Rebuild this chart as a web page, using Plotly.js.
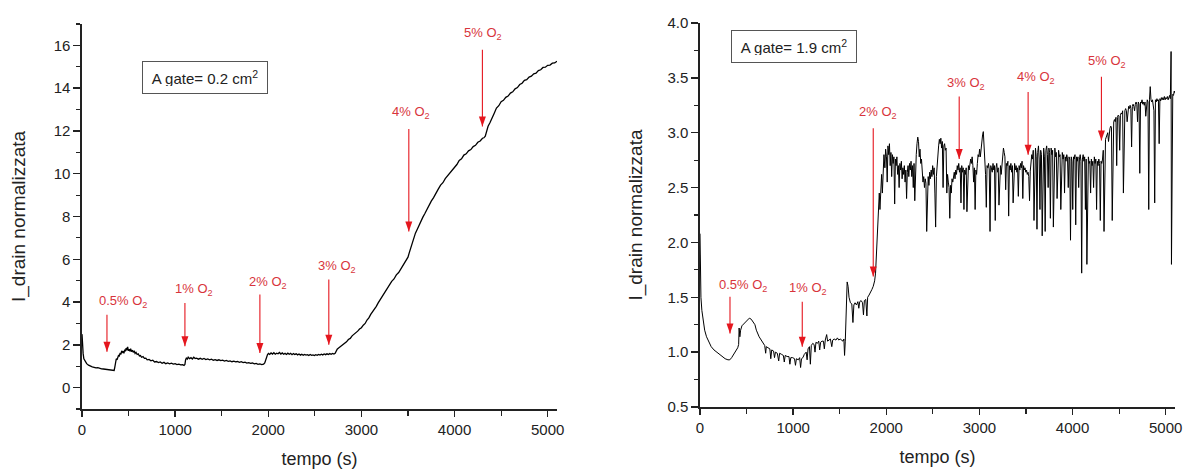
<!DOCTYPE html>
<html>
<head>
<meta charset="utf-8">
<script src="https://cdn.plot.ly/plotly-3.0.1.min.js"></script>
<style>
html,body{margin:0;padding:0;background:#fff;}
#chart{width:1184px;height:471px;}
</style>
</head>
<body>
<div id="chart"></div>
<script>
// ---- Left panel (A gate = 0.2 cm2) ----
const timeSmall = [0,5,12,20,35,50,70,90,110,130,150,170,190,210,230,250,270,290,310,330,345,352,360,368,376,384,392,400,410,418,426,434,442,450,458,466,474,482,490,498,506,514,522,530,540,550,560,570,580,592,604,616,628,640,655,670,685,700,720,740,760,780,800,820,840,860,880,900,920,940,960,980,1000,1020,1040,1060,1080,1095,1105,1112,1120,1130,1140,1155,1170,1185,1200,1215,1230,1250,1270,1290,1310,1330,1350,1370,1390,1410,1430,1450,1470,1490,1510,1530,1550,1570,1590,1610,1630,1650,1670,1690,1710,1730,1750,1770,1790,1810,1830,1850,1870,1890,1910,1930,1950,1962,1972,1982,1992,2002,2015,2030,2045,2060,2075,2090,2105,2120,2135,2150,2165,2180,2195,2210,2225,2240,2255,2270,2285,2300,2315,2330,2345,2360,2375,2390,2405,2420,2435,2450,2465,2480,2495,2510,2525,2540,2555,2570,2585,2600,2615,2630,2645,2660,2675,2690,2705,2718,2728,2740,2755,2770,2785,2800,2820,2840,2860,2880,2900,2920,2940,2960,2980,3000,3020,3040,3060,3080,3100,3120,3140,3160,3180,3200,3225,3250,3275,3300,3325,3350,3375,3400,3425,3450,3475,3500,3515,3530,3545,3560,3580,3600,3620,3640,3660,3680,3700,3725,3750,3775,3800,3825,3850,3875,3900,3925,3950,3975,4000,4025,4050,4075,4100,4125,4150,4175,4200,4225,4250,4275,4300,4315,4330,4345,4360,4380,4400,4425,4450,4475,4500,4525,4550,4575,4600,4625,4650,4675,4700,4725,4750,4775,4800,4825,4850,4875,4900,4925,4950,4975,5000,5025,5050,5075,5100];
const currentSmall = [2.5,2.0,1.6,1.35,1.2,1.12,1.05,1.0,0.97,0.95,0.92,0.93,0.89,0.88,0.87,0.86,0.85,0.84,0.83,0.81,0.8,0.95,1.2,1.35,1.3,1.45,1.5,1.48,1.62,1.55,1.72,1.65,1.7,1.6,1.78,1.7,1.85,1.75,1.9,1.72,1.8,1.7,1.82,1.68,1.75,1.65,1.72,1.6,1.65,1.55,1.58,1.48,1.5,1.42,1.45,1.37,1.38,1.3,1.32,1.25,1.28,1.2,1.22,1.17,1.2,1.14,1.18,1.12,1.15,1.11,1.14,1.1,1.12,1.08,1.1,1.06,1.07,1.04,1.08,1.3,1.38,1.33,1.42,1.35,1.4,1.34,1.42,1.36,1.38,1.33,1.37,1.32,1.36,1.31,1.34,1.3,1.33,1.28,1.31,1.27,1.3,1.26,1.28,1.24,1.27,1.23,1.25,1.21,1.24,1.2,1.22,1.18,1.21,1.17,1.19,1.15,1.17,1.13,1.15,1.11,1.13,1.09,1.11,1.08,1.1,1.15,1.3,1.45,1.55,1.6,1.55,1.62,1.57,1.63,1.56,1.61,1.58,1.64,1.57,1.62,1.56,1.6,1.55,1.61,1.56,1.6,1.54,1.59,1.55,1.58,1.53,1.57,1.52,1.56,1.51,1.55,1.52,1.54,1.5,1.55,1.51,1.53,1.5,1.54,1.51,1.55,1.52,1.56,1.53,1.57,1.54,1.58,1.55,1.59,1.56,1.6,1.57,1.6,1.72,1.8,1.85,1.9,1.95,2.0,2.1,2.14,2.25,2.3,2.42,2.48,2.57,2.64,2.74,2.8,2.92,3.0,3.16,3.26,3.42,3.53,3.69,3.8,3.96,4.1,4.3,4.43,4.64,4.78,4.97,5.08,5.27,5.38,5.57,5.7,5.92,6.1,6.32,6.52,6.82,6.98,7.22,7.4,7.62,7.78,7.97,8.13,8.32,8.48,8.72,8.88,9.12,9.28,9.47,9.58,9.77,9.9,10.07,10.18,10.32,10.43,10.62,10.7,10.87,10.93,11.07,11.13,11.27,11.33,11.47,11.53,11.66,11.68,11.76,12.0,12.22,12.38,12.62,12.82,13.07,13.18,13.37,13.43,13.57,13.63,13.77,13.83,13.97,14.03,14.17,14.23,14.37,14.4,14.52,14.56,14.67,14.7,14.82,14.86,14.97,14.98,15.07,15.08,15.17,15.18,15.26];

// ---- Right panel (A gate = 1.9 cm2) ----
const timeLarge = [0,4,10,20,35,50,70,95,120,150,180,210,240,270,300,320,340,360,385,405,415,420,428,436,450,470,490,510,530,550,570,590,605,620,635,650,665,680,695,705,712,730,750,760,770,790,800,810,830,845,855,875,895,905,915,935,955,965,975,995,1015,1025,1035,1055,1070,1080,1090,1105,1120,1140,1150,1160,1175,1185,1195,1210,1225,1235,1245,1260,1275,1285,1295,1310,1325,1335,1345,1360,1370,1385,1400,1415,1425,1440,1460,1475,1490,1505,1520,1535,1545,1552,1560,1565,1572,1580,1590,1600,1615,1630,1642,1652,1665,1680,1695,1705,1715,1730,1745,1755,1765,1780,1792,1800,1815,1830,1845,1860,1875,1885,1895,1905,1915,1925,1932,1940,1950,1958,1966,1975,1985,1993,2002,2010,2018,2026,2034,2042,2050,2058,2066,2074,2082,2090,2098,2106,2114,2122,2130,2138,2146,2154,2162,2170,2178,2186,2194,2202,2210,2218,2226,2234,2242,2250,2258,2266,2274,2282,2290,2298,2306,2314,2322,2330,2338,2346,2354,2362,2370,2378,2386,2394,2402,2410,2418,2426,2434,2442,2450,2458,2466,2474,2482,2490,2498,2506,2514,2522,2530,2538,2546,2554,2562,2570,2578,2586,2594,2602,2610,2618,2626,2634,2642,2650,2658,2666,2674,2682,2690,2698,2706,2714,2722,2730,2738,2746,2754,2762,2770,2778,2786,2794,2802,2810,2818,2826,2834,2842,2850,2858,2866,2874,2882,2890,2898,2906,2914,2922,2930,2938,2946,2954,2962,2970,2978,2986,2994,3002,3010,3018,3026,3034,3042,3050,3058,3066,3074,3082,3090,3098,3106,3114,3122,3130,3138,3146,3154,3162,3170,3178,3186,3194,3202,3210,3218,3226,3234,3242,3250,3258,3266,3274,3282,3290,3298,3306,3314,3322,3330,3338,3346,3354,3362,3370,3378,3386,3394,3402,3410,3418,3426,3434,3442,3450,3458,3466,3474,3482,3490,3498,3506,3514,3522,3530,3538,3546,3554,3562,3570,3578,3586,3594,3602,3610,3618,3626,3634,3642,3650,3658,3666,3674,3682,3690,3698,3706,3714,3722,3730,3738,3746,3754,3762,3770,3778,3786,3794,3802,3810,3818,3826,3834,3842,3850,3858,3866,3874,3882,3890,3898,3906,3914,3922,3930,3938,3946,3954,3962,3970,3978,3986,3994,4002,4010,4018,4026,4034,4042,4050,4058,4066,4074,4082,4090,4098,4106,4114,4122,4130,4138,4146,4154,4162,4170,4178,4186,4194,4202,4210,4218,4226,4234,4242,4250,4258,4266,4274,4282,4290,4298,4306,4314,4322,4330,4338,4346,4354,4362,4370,4378,4386,4394,4402,4410,4418,4426,4434,4442,4450,4458,4466,4474,4482,4490,4498,4506,4514,4522,4530,4538,4546,4554,4562,4570,4578,4586,4594,4602,4610,4618,4626,4634,4642,4650,4658,4666,4674,4682,4690,4698,4706,4714,4722,4730,4738,4746,4754,4762,4770,4778,4786,4794,4802,4810,4818,4826,4834,4842,4850,4858,4866,4874,4882,4890,4898,4906,4914,4922,4930,4938,4946,4954,4962,4970,4978,4986,4994,5002,5010,5018,5026,5034,5042,5050,5058,5062,5068,5076,5084,5092,5100];
const currentLarge = [2.08,1.75,1.5,1.38,1.27,1.2,1.14,1.09,1.05,1.02,1.0,0.98,0.96,0.94,0.93,0.93,0.95,0.98,1.01,1.04,1.07,1.22,1.14,1.2,1.24,1.26,1.28,1.3,1.31,1.3,1.28,1.25,1.2,1.16,1.14,1.12,1.1,1.08,1.06,0.99,1.05,1.04,1.03,0.94,1.02,1.01,0.95,1.0,0.99,0.92,0.99,0.98,0.97,0.91,0.97,0.96,0.96,0.89,0.95,0.95,0.94,0.88,0.94,0.93,0.95,0.86,0.94,0.95,0.98,1.0,0.93,1.03,1.05,0.89,1.06,1.08,1.07,1.0,1.09,1.08,1.1,1.02,1.09,1.1,1.1,1.03,1.11,1.16,1.1,1.11,1.12,1.05,1.11,1.12,1.11,1.13,1.11,1.12,1.11,1.1,1.12,0.97,1.1,1.3,1.5,1.64,1.6,1.5,1.45,1.44,1.27,1.43,1.45,1.43,1.46,1.4,1.46,1.47,1.45,1.34,1.47,1.48,1.33,1.5,1.52,1.54,1.57,1.6,1.65,1.72,1.9,2.1,2.3,2.45,2.3,2.55,2.62,2.45,2.72,2.8,2.68,2.85,2.78,2.55,2.88,2.8,2.9,2.7,2.82,2.6,2.8,2.72,2.78,2.35,2.76,2.7,2.78,2.62,2.7,2.5,2.72,2.66,2.74,2.58,2.68,2.62,2.7,2.55,2.66,2.4,2.64,2.7,2.6,2.72,2.66,2.74,2.6,2.7,2.5,2.72,2.38,2.74,2.8,2.9,2.96,2.92,2.78,2.85,2.72,2.76,2.62,2.55,2.6,2.5,2.58,2.54,2.1,2.56,2.6,2.52,2.64,2.58,2.66,2.6,2.7,2.62,2.68,2.45,2.14,2.6,2.72,2.8,2.88,2.94,2.9,2.95,2.86,2.92,2.5,2.88,2.9,2.84,2.86,2.45,2.62,2.55,2.5,2.22,2.52,2.45,2.58,2.55,2.6,2.64,2.58,2.66,2.62,2.7,2.66,2.72,2.64,2.68,2.36,2.7,2.64,2.68,2.3,2.66,2.62,2.68,2.28,2.64,2.7,2.66,2.72,2.76,2.72,2.78,2.7,2.55,2.68,2.3,2.66,2.62,2.72,2.8,2.78,2.85,2.78,2.88,2.92,2.98,3.01,2.9,2.7,2.62,2.32,2.7,2.68,2.72,2.66,2.1,2.7,2.68,2.64,2.72,2.66,2.7,2.2,2.68,2.72,2.64,2.68,2.34,2.66,2.7,2.62,2.72,2.8,2.86,2.82,2.78,2.48,2.72,2.7,2.74,2.24,2.7,2.66,2.72,2.64,2.7,2.36,2.68,2.72,2.66,2.7,2.64,2.68,2.42,2.7,2.66,2.72,2.68,2.74,2.4,2.7,2.66,2.68,2.64,2.66,2.62,2.64,2.6,2.38,2.65,2.72,2.8,2.76,2.84,2.2,2.8,2.86,2.78,2.12,2.82,2.88,2.76,2.3,2.84,2.8,2.06,2.82,2.86,2.78,2.1,2.84,2.88,2.8,2.5,2.86,2.82,2.22,2.86,2.8,2.84,2.14,2.8,2.86,2.78,2.82,2.4,2.8,2.84,2.78,2.8,2.3,2.78,2.82,2.76,2.8,2.45,2.78,2.74,2.8,2.76,2.5,2.78,2.76,2.02,2.78,2.74,2.3,2.78,2.76,2.8,2.16,2.78,2.74,2.78,2.5,2.76,2.8,2.74,1.72,2.76,2.8,2.74,2.78,2.3,2.76,1.8,2.74,2.78,2.72,2.74,2.45,2.76,2.7,2.74,2.5,2.78,2.72,2.76,2.3,2.74,2.7,2.76,2.72,2.2,2.74,2.72,2.76,2.84,2.1,2.9,2.94,2.96,2.98,3.0,2.92,3.02,3.04,3.06,3.05,2.2,3.08,3.1,3.12,3.1,3.14,2.7,3.14,3.16,3.15,2.84,3.16,3.18,3.17,3.2,2.45,3.18,3.2,3.22,3.2,3.1,3.22,3.24,3.22,3.25,3.22,2.87,3.24,3.26,3.24,3.2,3.26,3.28,3.26,3.1,3.28,3.26,2.63,3.28,3.27,3.3,3.26,3.28,3.25,3.28,3.15,3.27,3.3,3.28,2.3,3.3,3.42,3.3,3.28,3.3,3.26,3.2,2.36,3.3,3.28,3.31,3.29,3.3,2.9,3.31,3.29,3.32,3.3,3.32,3.3,3.33,3.3,3.32,3.31,3.33,3.3,3.32,3.34,3.31,3.74,1.8,3.3,3.35,3.34,3.38,3.36];

// ---- O2 step markers ----
const o2Labels = ['0.5%', '1%', '2%', '3%', '4%', '5%'];
const leftArrowTime = [268, 1105, 1910, 2650, 3509, 4299];
const leftArrowTip = [1.68, 1.93, 1.62, 2.0, 7.3, 12.21];
const leftArrowTail = [3.41, 3.96, 4.35, 5.05, 12.09, 15.8];
const leftLabelY = [4.03, 4.58, 4.9, 5.67, 12.85, 16.57];
const leftLabelShift = [-10, -12, -13, -13, -19, -20];

const rightArrowTime = [322, 1098, 1860, 2783, 3523, 4310];
const rightArrowTip = [1.17, 1.05, 1.69, 2.76, 2.8, 2.93];
const rightArrowTail = [1.505, 1.46, 3.04, 3.33, 3.37, 3.51];
const rightLabelY = [1.61, 1.58, 3.18, 3.45, 3.5, 3.65];
const rightLabelShift = [-13, -15, -16, -14, -13, -15];

const boxLabels = ['A gate= 0.2 cm<sup>2</sup>', 'A gate= 1.9 cm<sup>2</sup>'];

const FONT = 'Arial, "Liberation Sans", sans-serif';
const ARROW_RED = '#e5161e';
const TEXT_RED = '#d8343c';
const INK = '#222222';

const traces = [
  {x: timeSmall, y: currentSmall, xaxis: 'x', yaxis: 'y', mode: 'lines',
   line: {color: '#000', width: 1.3}, hoverinfo: 'skip'},
  {x: timeLarge, y: currentLarge, xaxis: 'x2', yaxis: 'y2', mode: 'lines',
   line: {color: '#000', width: 1}, hoverinfo: 'skip'}
];

function axisBase(extra) {
  return Object.assign({
    showgrid: false, zeroline: false, showline: true, linecolor: INK, linewidth: 1.6,
    ticks: 'outside', ticklen: 6, tickwidth: 1.4, tickcolor: INK,
    tickfont: {family: FONT, size: 15, color: INK},
    mirror: false, automargin: false, fixedrange: true
  }, extra);
}

const annotations = [];
const shapes = [];
function addMarkers(xref, yref, times, tips, tails, labY, shifts) {
  for (let i = 0; i < times.length; i++) {
    shapes.push({
      type: 'line', xref: xref, yref: yref, x0: times[i], x1: times[i], y0: tails[i], y1: tips[i],
      line: {color: ARROW_RED, width: 1.1}
    });
    shapes.push({
      type: 'path', xref: xref, yref: yref, xsizemode: 'pixel', ysizemode: 'pixel',
      xanchor: times[i], yanchor: tips[i], path: 'M-3.5,10 L3.5,10 L0,0 Z',
      fillcolor: ARROW_RED, line: {width: 0}
    });
    annotations.push({
      xref: xref, yref: yref, x: times[i], y: labY[i], xanchor: 'left', yanchor: 'middle',
      xshift: shifts[i], showarrow: false,
      text: o2Labels[i] + ' O<sub>2</sub>', font: {family: FONT, size: 13, color: TEXT_RED}
    });
  }
}
addMarkers('x', 'y', leftArrowTime, leftArrowTip, leftArrowTail, leftLabelY, leftLabelShift);
addMarkers('x2', 'y2', rightArrowTime, rightArrowTip, rightArrowTail, rightLabelY, rightLabelShift);

annotations.push({
  xref: 'paper', yref: 'paper', x: 205/1184, y: 1 - 77.5/471, xanchor: 'center', yanchor: 'middle',
  showarrow: false, text: boxLabels[0], font: {family: FONT, size: 15, color: INK},
  bordercolor: '#555', borderwidth: 1, borderpad: 7, bgcolor: '#fff', width: 110, height: 17
});
annotations.push({
  xref: 'paper', yref: 'paper', x: 793.5/1184, y: 1 - 46.5/471, xanchor: 'center', yanchor: 'middle',
  showarrow: false, text: boxLabels[1], font: {family: FONT, size: 15, color: INK},
  bordercolor: '#555', borderwidth: 1, borderpad: 7, bgcolor: '#fff', width: 110, height: 17
});

const layout = {
  width: 1184, height: 471,
  margin: {l: 0, r: 0, t: 0, b: 0},
  paper_bgcolor: '#fff', plot_bgcolor: '#fff',
  showlegend: false, hovermode: false,
  xaxis: axisBase({domain: [82/1184, 557/1184], range: [0, 5100], dtick: 1000, tick0: 0,
    minor: {dtick: 500, ticks: 'outside', ticklen: 5, tickcolor: INK, tickwidth: 1.2},
    anchor: 'y',
    title: {text: 'tempo (s)', font: {family: FONT, size: 18, color: INK}, standoff: 16}}),
  yaxis: axisBase({domain: [1 - 409/471, 1 - 24/471], range: [-1, 17], dtick: 2, tick0: 0, ticklen: 7,
    minor: {dtick: 1, ticks: 'outside', ticklen: 4, tickcolor: INK, tickwidth: 1.2},
    anchor: 'x',
    title: {text: 'I_drain normalizzata', font: {family: FONT, size: 19, color: INK}, standoff: 23}}),
  xaxis2: axisBase({domain: [700/1184, 1175/1184], range: [0, 5100], dtick: 1000, tick0: 0,
    minor: {dtick: 500, ticks: 'outside', ticklen: 5, tickcolor: INK, tickwidth: 1.2},
    anchor: 'y2',
    title: {text: 'tempo (s)', font: {family: FONT, size: 18, color: INK}, standoff: 16}}),
  yaxis2: axisBase({domain: [1 - 407/471, 1 - 23/471], range: [0.5, 4.0], dtick: 0.5, tick0: 0.5, ticklen: 7,
    tickformat: '.1f',
    minor: {dtick: 0.25, ticks: 'outside', ticklen: 4, tickcolor: INK, tickwidth: 1.2},
    anchor: 'x2',
    title: {text: 'I_drain normalizzata', font: {family: FONT, size: 19, color: INK}, standoff: 20}}),
  annotations: annotations,
  shapes: shapes
};

Plotly.newPlot('chart', traces, layout, {staticPlot: true, displayModeBar: false});
</script>
</body>
</html>
